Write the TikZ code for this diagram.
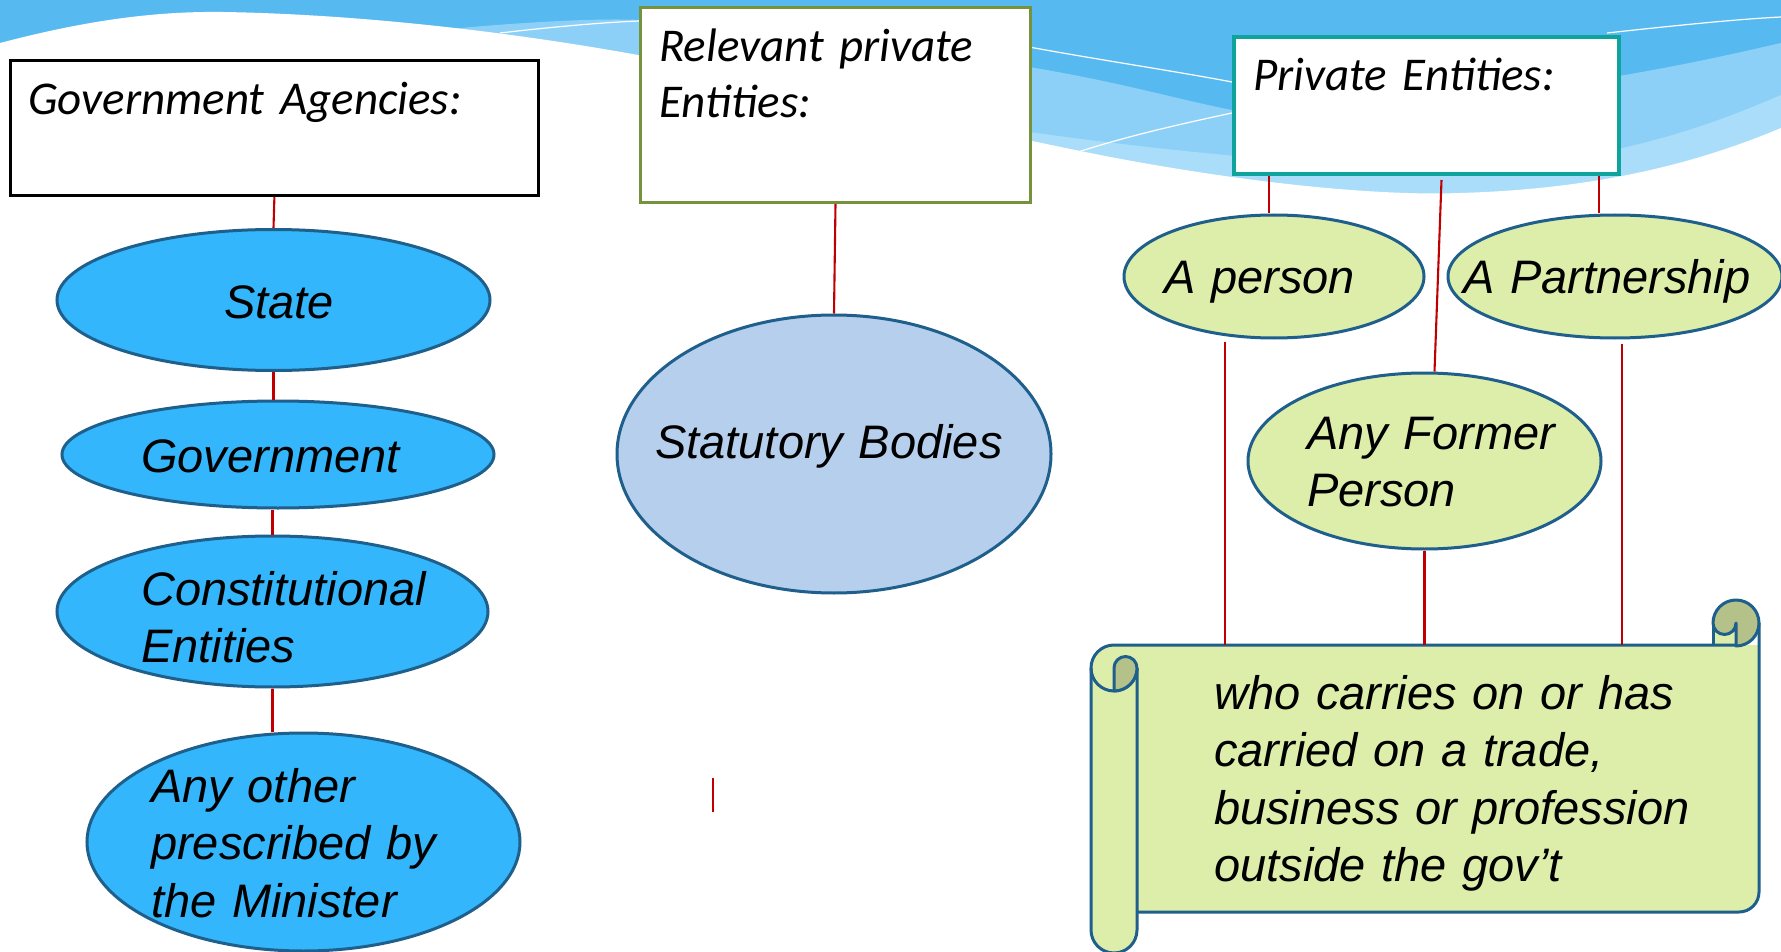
\documentclass[tikz,border=0pt]{standalone}
\usepackage{fontspec}
\setmainfont{Carlito}
\newfontfamily\arialfont{Liberation Sans}
\usetikzlibrary{shapes.geometric,calc}
\definecolor{bgblue}{HTML}{56BAF1}
\definecolor{bandone}{HTML}{8DD0F7}
\definecolor{bandtwo}{HTML}{A9DDFA}
\definecolor{ovalblue}{HTML}{33B6FB}
\definecolor{statblue}{HTML}{B5CFEC}
\definecolor{edgeblue}{HTML}{1F5F8C}
\definecolor{lgreen}{HTML}{DDEDAA}
\definecolor{olivefill}{HTML}{B4C28A}
\definecolor{oliveedge}{HTML}{76923C}
\definecolor{tealedge}{HTML}{0FA39E}
\definecolor{linered}{HTML}{C00000}
\begin{document}
\begin{tikzpicture}[x=1pt,y=-1pt,
  hdrbox/.style={rectangle, inner sep=0pt, anchor=north west, fill=white},
  hdrtext/.style={font=\itshape\fontsize{47}{56}\selectfont, inner sep=0pt, anchor=base west, align=left, text width=700pt},
  oval/.style={ellipse, draw=edgeblue, line width=3pt, inner sep=0pt},
  ovaltext/.style={font=\arialfont\itshape\fontsize{47}{57.5}\selectfont, inner sep=0pt, anchor=base west, align=left, text width=700pt},
  conn/.style={draw=linered, line width=2.1pt},
  scrolledge/.style={draw=edgeblue, line width=3pt, line join=round},
  wave/.style={draw=white, line width=1.2pt},
]
\useasboundingbox (0,0) rectangle (1781,952);
\clip (0,0) rectangle (1781,952);
% background
\fill[white] (0,0) rectangle (1781,952);
\fill[bgblue] (0,0) rectangle (1781,260);
\fill[bandone] (440,30) .. controls (520,22) and (600,18) .. (640,20)
  .. controls (800,30) and (950,55) .. (1029,67)
  .. controls (1120,82) and (1180,100) .. (1232,110)
  .. controls (1350,125) and (1500,90) .. (1625,75)
  .. controls (1700,62) and (1750,50) .. (1781,43) -- (1781,260) -- (440,260) -- cycle;
\fill[bandtwo] (980,125) .. controls (1150,150) and (1300,165) .. (1450,168)
  .. controls (1600,165) and (1700,130) .. (1781,95) -- (1781,260) -- (980,260) -- cycle;
\fill[white] (0,43) .. controls (80,22) and (150,11) .. (223,12)
  .. controls (350,14) and (500,30) .. (638,55)
  .. controls (800,88) and (950,125) .. (1100,155)
  .. controls (1250,184) and (1380,196) .. (1460,193)
  .. controls (1600,189) and (1700,162) .. (1781,128) -- (1781,952) -- (0,952) -- cycle;
\draw[wave] (500,33) .. controls (560,26) and (610,22) .. (640,21);
\draw[wave] (1029,47) .. controls (1100,60) and (1180,72) .. (1232,82);
\draw[wave] (1075,153) .. controls (1130,135) and (1190,122) .. (1232,113);
\draw[wave] (1607,33) .. controls (1680,25) and (1740,19) .. (1781,17);

% header boxes
\node[hdrbox, draw=black, line width=2.8pt, minimum width=528, minimum height=135] (gov) at (9,59) {};
\node[hdrbox, draw=oliveedge, line width=3pt, minimum width=390, minimum height=195] (rel) at (639,6) {};
\node[hdrbox, draw=tealedge, line width=4pt, minimum width=385, minimum height=137] (priv) at (1232,35) {};
\node[hdrtext] (gov-t) at (28,115) {Government Agencies:};
\node[hdrtext] (rel-t) at (659,62) {Relevant private\\Entities:};
\node[hdrtext] (priv-t) at (1253,91) {Private Entities:};

% scroll
\node[rectangle, inner sep=0pt, anchor=north west, minimum width=645, minimum height=267] (scroll) at (1114,645) {};
\fill[lgreen] (1114,645) -- (1759,645) -- (1759,892) arc (0:90:20) -- (1114,912) -- cycle;
\fill[lgreen] (1091,668) -- (1091,930) arc (180:0:23) -- (1137,668) -- cycle;
\fill[lgreen] (1114,668) circle (23);
\fill[lgreen] (1713,623) rectangle (1736,646);
\draw[scrolledge] (1736,645) -- (1114,645) arc (270:0:23);
\draw[scrolledge] (1091,668) -- (1091,930) arc (180:0:23) -- (1137,668);
\draw[scrolledge] (1759,623) -- (1759,892) arc (0:90:20) -- (1137,912);
\draw[scrolledge] (1713,623) -- (1713,645);
\filldraw[scrolledge, fill=olivefill] (1713,623) arc (180:450:23) -- (1736,623) arc (0:180:11.5) -- cycle;
\filldraw[scrolledge, fill=olivefill] (1114,691) -- (1114,668) arc (180:360:11.5) arc (0:90:23) -- cycle;
\node[ovaltext] (scroll-t) at (1214,709) {who carries on or has\\carried on a trade,\\business or profession\\outside the gov’t};

% ellipses
\node[oval, fill=ovalblue, minimum width=433, minimum height=141] (state) at (273.5,300) {};
\node[oval, fill=ovalblue, minimum width=432, minimum height=107] (government) at (278,454.5) {};
\node[oval, fill=ovalblue, minimum width=431, minimum height=151] (constit) at (272.5,611.5) {};
\node[oval, fill=ovalblue, minimum width=433, minimum height=218] (anyother) at (303.5,842) {};
\node[oval, fill=statblue, minimum width=434, minimum height=278] (statutory) at (834,454) {};
\node[oval, fill=lgreen, minimum width=300, minimum height=123] (aperson) at (1274,276.5) {};
\node[oval, fill=lgreen, minimum width=334, minimum height=123] (partner) at (1615,276.5) {};
\node[oval, fill=lgreen, minimum width=353, minimum height=176] (former) at (1424.5,461) {};

\node[ovaltext] (state-t) at (224,318) {State};
\node[ovaltext] (government-t) at (141,472) {Government};
\node[ovaltext] (constit-t) at (141,605) {Constitutional\\Entities};
\node[ovaltext] (anyother-t) at (151,802) {Any other\\prescribed by\\the Minister};
\node[ovaltext] (statutory-t) at (655,458) {Statutory Bodies};
\node[ovaltext] (aperson-t) at (1164,294) {A person};
\node[ovaltext] (partner-t) at (1463,294) {A Partnership};
\node[ovaltext] (former-t) at (1307,449) {Any Former\\Person};

% connectors
\draw[conn] (gov.south) -- (state.north);
\draw[conn] (state.south) -- (state.south |- government.north);
\draw[conn] (constit.north |- government.south) -- (constit.north);
\draw[conn] (constit.south) -- (constit.south |- anyother.north);
\draw[conn] (rel.south) -- (statutory.north);
\draw[conn] ([xshift=-5pt]aperson.north |- priv.south) -- ([xshift=-5pt]aperson.north);
\draw[conn] ([xshift=-16pt]partner.north |- priv.south) -- ([xshift=-16pt]partner.north);
\draw[conn] ([xshift=15pt,yshift=-4pt]priv.south) -- ([xshift=10pt]former.north);
\draw[conn] ([xshift=-49pt,yshift=-2pt]aperson.south) -- ([xshift=-49pt]aperson.south |- scroll.north);
\draw[conn] (former.south) -- (former.south |- scroll.north);
\draw[conn] ([xshift=7pt,yshift=-4pt]partner.south) -- ([xshift=7pt]partner.south |- scroll.north);
\coordinate (stray-a) at (713,778);
\coordinate (stray-b) at (713,812);
\draw[conn, line width=2.4pt] (stray-a) -- (stray-b);
\end{tikzpicture}
\end{document}
